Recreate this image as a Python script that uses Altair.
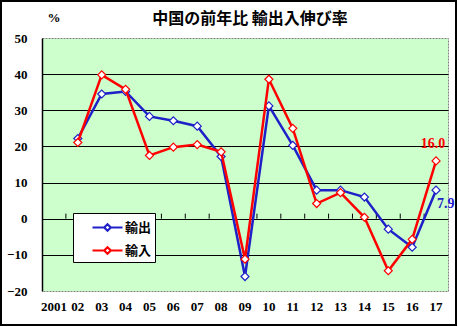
import altair as alt
import pandas as pd

years = ["2001", "02", "03", "04", "05", "06", "07", "08", "09", "10",
         "11", "12", "13", "14", "15", "16", "17"]
exports = [None, 22.2, 34.5, 35.2, 28.3, 27.1, 25.6, 17.2, -16.0, 31.2,
           20.3, 7.9, 7.9, 6.0, -2.9, -7.9, 7.9]
imports = [None, 21.1, 39.8, 35.8, 17.5, 19.8, 20.5, 18.5, -11.2, 38.6,
           25.0, 4.2, 7.2, 0.4, -14.4, -5.7, 16.0]
series = ["輸出", "輸入"]
colors = ["#2020C8", "#FF0000"]
y_ticks = [-20, -10, 0, 10, 20, 30, 40, 50]
title_text = "中国の前年比 輸出入伸び率"

rows = []
for s, vals in zip(series, [exports, imports]):
    for i, (yr, v) in enumerate(zip(years, vals)):
        rows.append({"year": yr, "value": v, "series": s, "idx": i})
df = pd.DataFrame(rows)

tick_df = pd.DataFrame({"year": years[1:], "value": [0] * (len(years) - 1)})

FONT_NUM = "Liberation Serif"
FONT_JP = "Noto Sans CJK JP"

xscale = alt.Scale(type="band", domain=years, paddingInner=0, paddingOuter=0)
yscale = alt.Scale(domain=[-20, 50], nice=False, zero=False)

x_axis = alt.Axis(
    title=None,
    labelAngle=0,
    ticks=False,
    domain=False,
    grid=False,
    labelFont=FONT_NUM,
    labelFontSize=13,
    labelFontWeight="bold",
    labelColor="black",
    labelPadding=9,
    labelOverlap=False,
)
y_axis = alt.Axis(
    title=None,
    values=y_ticks,
    ticks=False,
    domain=True,
    domainColor="black",
    domainWidth=1.5,
    grid=True,
    gridColor="black",
    gridWidth=1.2,
    gridOpacity={"expr": "datum.value == 50 || datum.value == -20 ? 0 : 1"},
    labelFont=FONT_NUM,
    labelFontSize=13,
    labelFontWeight="bold",
    labelColor="black",
    labelPadding=15,
    labelOverlap=False,
    labelFlush=False,
)

stroke_enc = alt.Stroke(
    "series:N",
    scale=alt.Scale(domain=series, range=colors),
    sort=series,
    legend=alt.Legend(
        title=None,
        orient="none",
        legendX=31,
        legendY=175,
        fillColor="white",
        strokeColor="black",
        padding=3,
        rowPadding=3,
        symbolType="M-1.5,0H-0.33M0.33,0H1.5M0,-0.33L0.33,0L0,0.33L-0.33,0Z",
        symbolSize=400,
        symbolOffset=20,
        symbolStrokeWidth=2.2,
        symbolFillColor="white",
        labelFont=FONT_JP,
        labelFontSize=13,
        labelFontWeight="bold",
        labelColor="black",
        labelOffset=6,
        labelExpr="datum.label + '\u00a0\u00a0\u00a0\u00a0\u00a0\u00a0'",
    ),
)

base = alt.Chart(df)

x_main = alt.X("year:O", scale=xscale, bandPosition=0.5, sort=years, axis=x_axis)
y_main = alt.Y("value:Q", scale=yscale, axis=y_axis)

layers = []
for s, c in zip(series, colors):
    sub = base.transform_filter(alt.datum.series == s)
    line = sub.mark_line(strokeWidth=2.5).encode(x=x_main, y=y_main, stroke=stroke_enc)
    pts = sub.mark_point(
        shape="diamond", size=64, filled=False, fill="white", fillOpacity=1,
        strokeWidth=1.2, opacity=1
    ).encode(x=x_main, y=y_main, stroke=stroke_enc)
    layers += [line, pts]

ticks = alt.Chart(tick_df).transform_calculate(
    top="datum.value + 1.4"
).mark_rule(color="black", strokeWidth=1).encode(
    x=alt.X("year:O", scale=xscale, bandPosition=0, sort=years, axis=x_axis),
    y=y_main,
    y2="top:Q",
)
layers.insert(0, ticks)

last = base.transform_filter(alt.datum.idx == len(years) - 1).transform_calculate(
    label="format(datum.value, '.1f')"
)
lab_imp = last.transform_filter(alt.datum.series == series[1]).mark_text(
    font=FONT_NUM, fontSize=14, fontWeight="bold", color=colors[1],
    align="center", baseline="middle", dx=-3, dy=-17
).encode(x=x_main, y=y_main, text="label:N")
lab_exp = last.transform_filter(alt.datum.series == series[0]).mark_text(
    font=FONT_NUM, fontSize=14, fontWeight="bold", color=colors[0],
    align="left", baseline="middle", dx=1, dy=14
).encode(x=x_main, y=y_main, text="label:N")
layers += [lab_imp, lab_exp]

ann = alt.Chart(alt.Data(values=[{"t": title_text, "p": "%"}]))
title_mark = ann.mark_text(
    font=FONT_JP, fontSize=16, fontWeight="bold", color="black",
    align="center", baseline="middle", clip=False
).encode(x=alt.value(208), y=alt.value(-19), text="t:N")
pct_mark = ann.mark_text(
    font=FONT_NUM, fontSize=13, fontWeight="bold", color="black",
    align="center", baseline="middle", clip=False
).encode(x=alt.value(12), y=alt.value(-20), text="p:N")
frame = ann.mark_rect(
    fill=None, stroke="black", strokeWidth=2, clip=False
).encode(
    x=alt.value(-41), x2=alt.value(414), y=alt.value(-37), y2=alt.value(287)
)
layers += [title_mark, pct_mark, frame]

chart = alt.layer(*layers).properties(
    width=406,
    height=253,
    autosize=alt.AutoSizeParams(type="none"),
    padding={"left": 42, "top": 38, "right": 10, "bottom": 36},
    background="white",
).configure_view(
    fill="#CCFFCC",
    stroke="#808080",
    strokeDash=[2, 1],
    strokeWidth=1,
)

chart.save("out.html", embed_options={"renderer": "svg", "actions": False})
